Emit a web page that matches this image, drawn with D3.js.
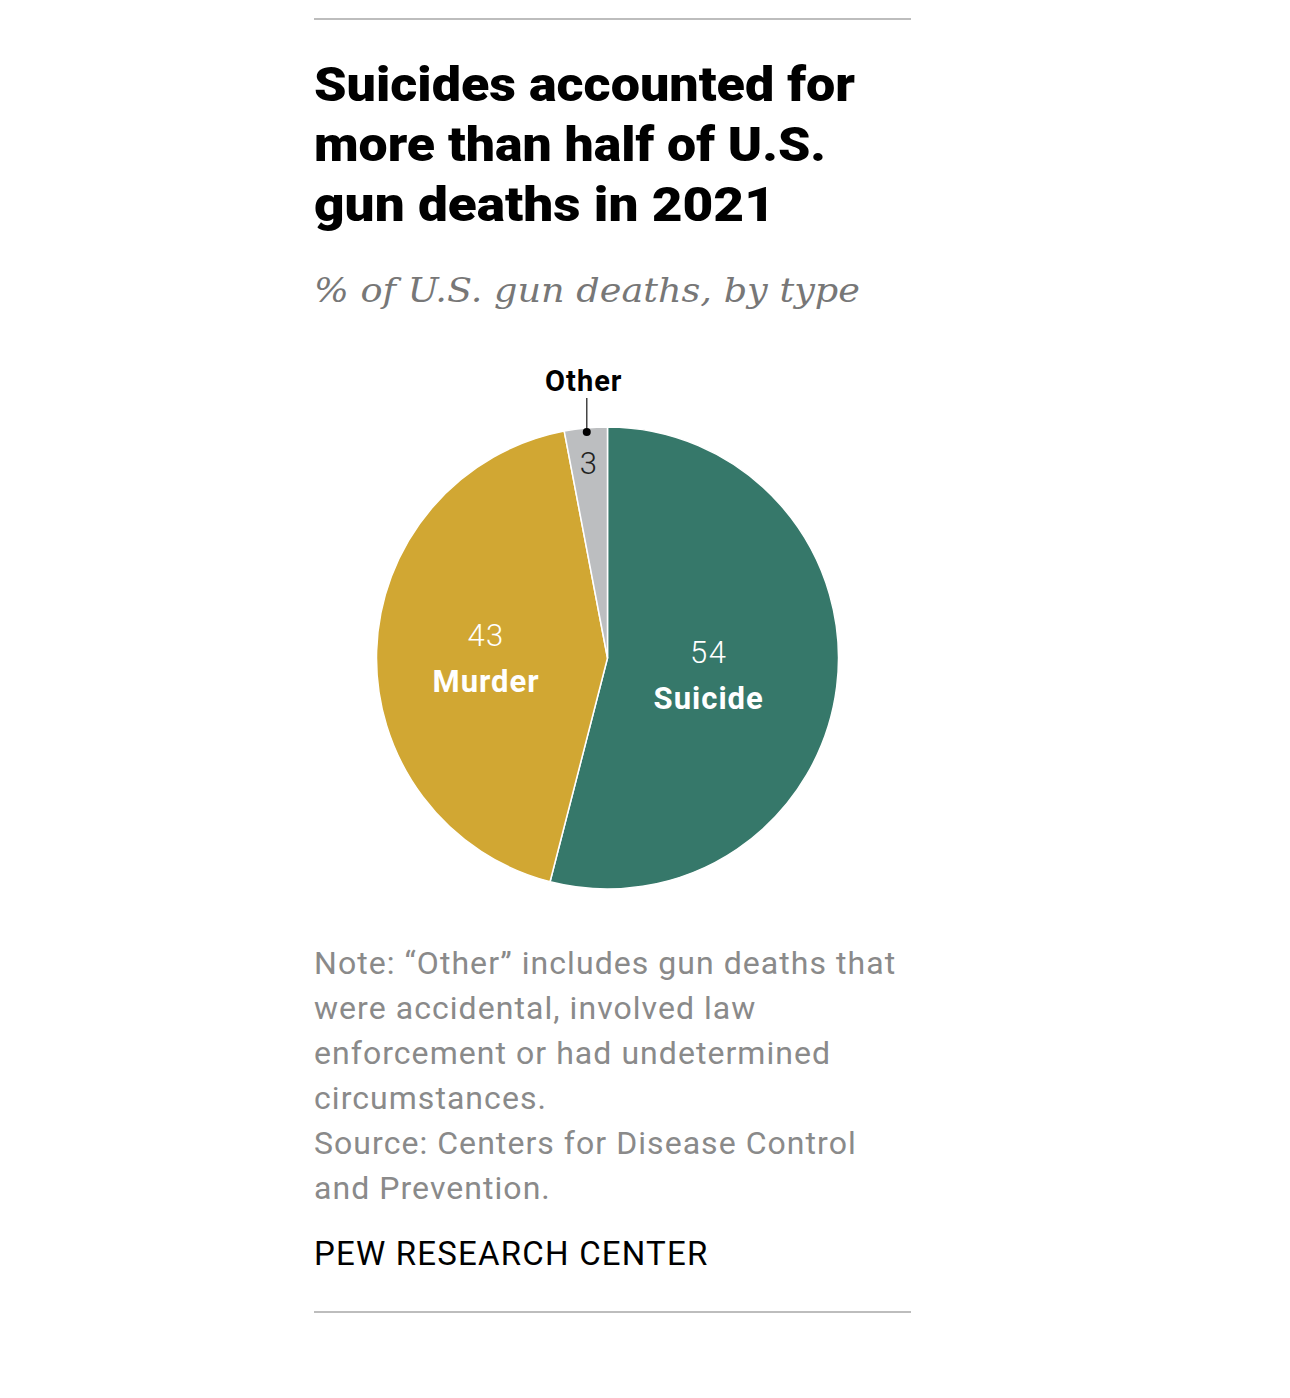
<!DOCTYPE html>
<html>
<head>
<meta charset="utf-8">
<script src="https://cdn.jsdelivr.net/npm/d3@7"></script>
<style>
  html, body { margin: 0; padding: 0; background: #fff; }
  svg { display: block; }
</style>
</head>
<body>
<svg id="chart" width="1290" height="1398"></svg>
<script>
const categories = ["Suicide", "Murder", "Other"];
const values = [54, 43, 3];
const colors = ["#36786A", "#D1A733", "#BCBEC0"];
const titleLines = ["Suicides accounted for", "more than half of U.S.", "gun deaths in 2021"];
const subtitle = "% of U.S. gun deaths, by type";
const noteLines = [
  "Note: \u201COther\u201D includes gun deaths that",
  "were accidental, involved law",
  "enforcement or had undetermined",
  "circumstances.",
  "Source: Centers for Disease Control",
  "and Prevention."
];
const credit = "PEW RESEARCH CENTER";

const svg = d3.select("#chart");
const left = 314, right = 911;
const font = "Roboto, 'Liberation Sans', sans-serif";

svg.append("line").attr("x1", left).attr("x2", right).attr("y1", 19).attr("y2", 19)
  .attr("stroke", "#a7a7a7").attr("stroke-width", 1.5);
svg.append("line").attr("x1", left).attr("x2", right).attr("y1", 1312).attr("y2", 1312)
  .attr("stroke", "#a7a7a7").attr("stroke-width", 1.5);

// Title: stretch each line to the measured width of the original typeface
const titleWidths = [541, 512, 461];
svg.append("g").selectAll("text").data(titleLines).join("text")
  .attr("x", left).attr("y", (d, i) => 101 + i * 60)
  .attr("font-family", font)
  .attr("font-weight", 900).attr("font-size", 49).attr("fill", "#000")
  .attr("textLength", (d, i) => titleWidths[i]).attr("lengthAdjust", "spacingAndGlyphs")
  .text(d => d);

svg.append("text").attr("x", left).attr("y", 302)
  .attr("font-family", "'DejaVu Serif', 'Liberation Serif', serif")
  .attr("font-style", "italic").attr("font-size", 34).attr("fill", "#777")
  .attr("textLength", 546).attr("lengthAdjust", "spacingAndGlyphs")
  .text(subtitle);

const cx = 607.5, cy = 658, r = 231;
const pie = d3.pie().sort(null).value(d => d.v);
const arcs = pie(categories.map((c, i) => ({c, v: values[i], color: colors[i]})));
const arc = d3.arc().innerRadius(0).outerRadius(r);
const g = svg.append("g").attr("transform", `translate(${cx},${cy})`);
g.selectAll("path").data(arcs).join("path")
  .attr("d", arc).attr("fill", d => d.data.color)
  .attr("stroke", "#fff").attr("stroke-width", 1.5).attr("stroke-linejoin", "round");

// Inside labels at (scaled) wedge centroid
[0, 1].forEach(i => {
  const a = arcs[i];
  const half = (a.endAngle - a.startAngle) / 2;
  const mid = a.startAngle + half;
  const rr = 1.11 * (2 * r * Math.sin(half)) / (3 * half);
  const lx = Math.sin(mid) * rr + 2, ly = -Math.cos(mid) * rr;
  g.append("text").attr("x", lx).attr("y", ly - 8).attr("text-anchor", "middle")
    .attr("font-family", font).attr("font-weight", 300).attr("font-size", 31)
    .attr("letter-spacing", 1.5).attr("fill", "#fff").text(values[i]);
  g.append("text").attr("x", lx).attr("y", ly + 38).attr("text-anchor", "middle")
    .attr("font-family", font).attr("font-weight", 700).attr("font-size", 31)
    .attr("letter-spacing", 1).attr("fill", "#fff").text(categories[i]);
});
// Other: leader line + outside label
{
  const a = arcs[2];
  const mid = (a.startAngle + a.endAngle) / 2;
  const px = Math.sin(mid) * r + 1, py = -Math.cos(mid) * r;
  const dotY = py + 4;
  g.append("line").attr("x1", px).attr("x2", px).attr("y1", dotY).attr("y2", dotY - 34)
    .attr("stroke", "#444").attr("stroke-width", 1.5);
  g.append("circle").attr("cx", px).attr("cy", dotY).attr("r", 4).attr("fill", "#000");
  g.append("text").attr("x", px - 3).attr("y", dotY - 41).attr("text-anchor", "middle")
    .attr("font-family", font).attr("font-weight", 700).attr("font-size", 29)
    .attr("letter-spacing", 1).attr("fill", "#000").text(categories[2]);
  g.append("text").attr("x", px + 1.5).attr("y", dotY + 42).attr("text-anchor", "middle")
    .attr("font-family", font).attr("font-weight", 300).attr("font-size", 31)
    .attr("fill", "#222").text(values[2]);
}

svg.append("g").selectAll("text").data(noteLines).join("text")
  .attr("x", left).attr("y", (d, i) => 974 + i * 45)
  .attr("font-family", font).attr("font-size", 32).attr("letter-spacing", 1.05)
  .attr("fill", "#8a8a8a")
  .text(d => d);

svg.append("text").attr("x", left).attr("y", 1265)
  .attr("font-family", font).attr("font-size", 33).attr("letter-spacing", 1.2).attr("fill", "#000")
  .text(credit);
</script>
</body>
</html>
